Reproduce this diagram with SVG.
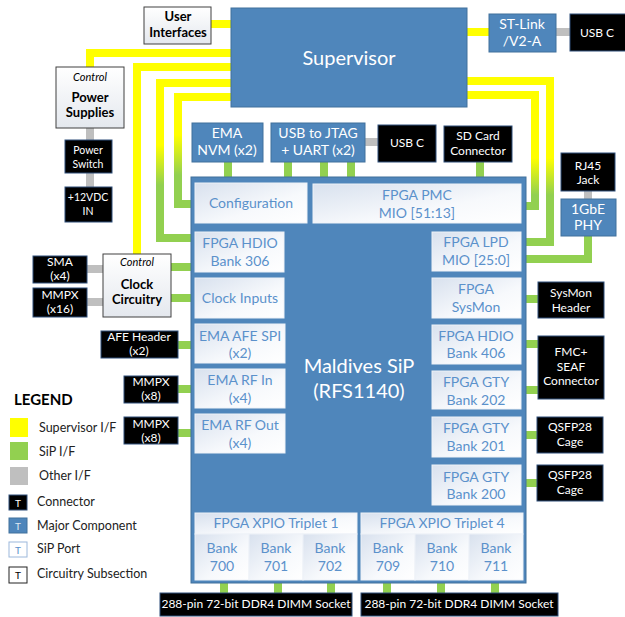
<svg xmlns="http://www.w3.org/2000/svg" width="625" height="617" viewBox="0 0 625 617">
<defs>
<linearGradient id="portFill" x1="0" y1="0" x2="1" y2="1"><stop offset="0" stop-color="#d8e1ee"/><stop offset="0.6" stop-color="#f7f9fc"/><stop offset="1" stop-color="#ffffff"/></linearGradient>
<linearGradient id="ctrlFill" x1="0" y1="0" x2="0" y2="1"><stop offset="0" stop-color="#ffffff"/><stop offset="1" stop-color="#e4e8ee"/></linearGradient>
<linearGradient id="ygL1" gradientUnits="userSpaceOnUse" x1="0" y1="145" x2="0" y2="185"><stop offset="0" stop-color="#ffff00"/><stop offset="1" stop-color="#92d050"/></linearGradient>
<linearGradient id="ygL2" gradientUnits="userSpaceOnUse" x1="0" y1="135" x2="0" y2="175"><stop offset="0" stop-color="#ffff00"/><stop offset="1" stop-color="#92d050"/></linearGradient>
<linearGradient id="ygR" gradientUnits="userSpaceOnUse" x1="0" y1="158" x2="0" y2="195"><stop offset="0" stop-color="#ffff00"/><stop offset="1" stop-color="#92d050"/></linearGradient>
</defs>
<style>
text{font-family:Lato,"Liberation Sans",sans-serif;text-anchor:middle}
.y{fill:none;stroke:#ffff00;stroke-width:8}
.g{fill:none;stroke:#92d050;stroke-width:8}
.o{fill:none;stroke:#bfbfbf;stroke-width:8}
.yg{fill:none;stroke-width:8}
.major{fill:#4f86bb;stroke:#41719c;stroke-width:1}
.port{fill:url(#portFill);stroke:#eef2f8;stroke-width:1}
.conn{fill:#000;stroke:#2f4f7a;stroke-width:1}
.ctrl{fill:url(#ctrlFill);stroke:#404040;stroke-width:1}
.pt{fill:#5b91cb;font-size:14px}
.mt{fill:#fff;font-size:14px}
.ct{fill:#fff;font-size:12px}
.cs{fill:#fff;font-size:10.5px}
.bt{fill:#000;font-size:13px;font-weight:bold}
.it{fill:#000;font-size:11px;font-style:italic}
.lg{fill:#222;font-size:12.5px;text-anchor:start}
.lh{fill:#000;font-size:15px;font-weight:bold;text-anchor:start}
</style>
<rect width="625" height="617" fill="#fff"/>
<g id="connectors">
<path class="y" d="M211 24H231"/>
<path class="y" d="M467 32H489"/>
<path class="o" d="M556 32H570"/>
<path class="y" d="M231 53H90V67"/>
<path class="y" d="M231 67H137V254"/>
<path class="yg" stroke="url(#ygL1)" d="M231 83H160V238H191"/>
<path class="yg" stroke="url(#ygL2)" d="M231 97H178V204H191"/>
<path class="yg" stroke="url(#ygR)" d="M467 81H550V242H526"/>
<path class="yg" stroke="url(#ygR)" d="M467 95H535V206H526"/>
<path class="g" d="M588 236V259H526"/>
<path class="o" d="M588 191V199"/>
<path class="g" d="M480 162V177"/>
<path class="g" d="M228 162V177M288 162V177M324 162V177M351 162V177"/>
<path class="o" d="M365 142H378"/>
<path class="o" d="M90 128V187"/>
<path class="o" d="M87 269H103M87 302H103"/>
<path class="g" d="M171 267H191M171 298H191M178 345H191M178 389H191M178 433H191"/>
<path class="g" d="M526 299H538M526 344H538M526 390H538M526 435H538M526 483H538"/>
<path class="g" d="M224 583V593M278 583V593M331 583V593M387 583V593M441 583V593M495 583V593"/>
</g>
<g id="supervisor"><rect class="major" x="231" y="8" width="236" height="99"/><text x="349" y="65" fill="#fff" font-size="20">Supervisor</text></g>
<g id="user-interfaces"><rect class="ctrl" x="144" y="7" width="67" height="37" stroke="#555"/><text class="bt" x="178" y="21" font-size="12">User</text><text class="bt" x="178" y="37" font-size="12">Interfaces</text></g>
<g id="st-link"><rect class="major" x="489" y="14" width="67" height="38"/><text class="mt" x="522" y="29" font-size="13">ST-Link</text><text class="mt" x="522" y="46" font-size="13">/V2-A</text></g>
<g id="usbc-top"><rect class="conn" x="570" y="14" width="56" height="37"/><text class="ct" x="597" y="37">USB C</text></g>
<g id="power-supplies"><rect class="ctrl" x="56" y="67" width="68" height="61"/><text class="it" x="90" y="81">Control</text><text class="bt" x="90" y="102">Power</text><text class="bt" x="90" y="117">Supplies</text></g>
<g id="power-switch"><rect class="conn" x="65" y="140" width="47" height="33"/><text class="cs" x="88" y="154">Power</text><text class="cs" x="88" y="168">Switch</text></g>
<g id="dc-in"><rect class="conn" x="65" y="187" width="47" height="35"/><text class="cs" x="88" y="201">+12VDC</text><text class="cs" x="88" y="215">IN</text></g>
<g id="ema-nvm"><rect class="major" x="192" y="123" width="71" height="39"/><text class="mt" x="227" y="138">EMA</text><text class="mt" x="227" y="155">NVM (x2)</text></g>
<g id="usb-jtag"><rect class="major" x="271" y="123" width="94" height="39"/><text class="mt" x="318" y="138">USB to JTAG</text><text class="mt" x="318" y="155">+ UART (x2)</text></g>
<g id="usbc-mid"><rect class="conn" x="378" y="125" width="58" height="37"/><text class="ct" x="407" y="147">USB C</text></g>
<g id="sd-card"><rect class="conn" x="444" y="126" width="68" height="36"/><text class="ct" x="478" y="140">SD Card</text><text class="ct" x="478" y="155">Connector</text></g>
<g id="rj45"><rect class="conn" x="561" y="153" width="54" height="38"/><text class="ct" x="588" y="170">RJ45</text><text class="ct" x="588" y="184">Jack</text></g>
<g id="phy"><rect class="major" x="561" y="199" width="55" height="37"/><text class="mt" x="588" y="214" font-size="13">1GbE</text><text class="mt" x="588" y="230" font-size="13">PHY</text></g>
<g id="sip">
<rect class="major" x="191" y="177" width="335" height="406"/>
<text x="359" y="373" fill="#fff" font-size="20">Maldives SiP</text>
<text x="359" y="398" fill="#fff" font-size="20">(RFS1140)</text>
</g>
<g id="configuration"><rect class="port" x="195" y="183" width="112" height="40"/><text class="pt" x="251" y="208">Configuration</text></g>
<g id="pmc-mio"><rect class="port" x="313" y="184" width="208" height="39"/><text class="pt" x="417" y="200">FPGA PMC</text><text class="pt" x="417" y="218">MIO [51:13]</text></g>
<g id="hdio-306"><rect class="port" x="195" y="232" width="89" height="40"/><text class="pt" x="240" y="248">FPGA HDIO</text><text class="pt" x="240" y="266">Bank 306</text></g>
<g id="lpd-mio"><rect class="port" x="432" y="232" width="89" height="39"/><text class="pt" x="476" y="247">FPGA LPD</text><text class="pt" x="476" y="265">MIO [25:0]</text></g>
<g id="clock-inputs"><rect class="port" x="195" y="278" width="89" height="40"/><text class="pt" x="240" y="303">Clock Inputs</text></g>
<g id="sysmon"><rect class="port" x="432" y="278" width="89" height="40"/><text class="pt" x="476" y="294">FPGA</text><text class="pt" x="476" y="312">SysMon</text></g>
<g id="afe-spi"><rect class="port" x="195" y="324" width="90" height="39"/><text class="pt" x="240" y="341">EMA AFE SPI</text><text class="pt" x="240" y="358">(x2)</text></g>
<g id="hdio-406"><rect class="port" x="432" y="325" width="89" height="39"/><text class="pt" x="476" y="341">FPGA HDIO</text><text class="pt" x="476" y="358">Bank 406</text></g>
<g id="rf-in"><rect class="port" x="195" y="369" width="90" height="39"/><text class="pt" x="240" y="385">EMA RF In</text><text class="pt" x="240" y="403">(x4)</text></g>
<g id="gty-202"><rect class="port" x="432" y="371" width="89" height="38"/><text class="pt" x="476" y="387">FPGA GTY</text><text class="pt" x="476" y="405">Bank 202</text></g>
<g id="rf-out"><rect class="port" x="195" y="414" width="90" height="39"/><text class="pt" x="240" y="430">EMA RF Out</text><text class="pt" x="240" y="448">(x4)</text></g>
<g id="gty-201"><rect class="port" x="432" y="417" width="89" height="40"/><text class="pt" x="476" y="433">FPGA GTY</text><text class="pt" x="476" y="451">Bank 201</text></g>
<g id="gty-200"><rect class="port" x="432" y="465" width="89" height="40"/><text class="pt" x="476" y="482">FPGA GTY</text><text class="pt" x="476" y="499">Bank 200</text></g>
<g id="xpio-1">
<rect class="port" x="195" y="513" width="162" height="21"/><text class="pt" x="276" y="528">FPGA XPIO Triplet 1</text>
<rect class="port" x="195" y="534" width="54" height="46"/><text class="pt" x="222" y="553">Bank</text><text class="pt" x="222" y="571">700</text>
<rect class="port" x="249" y="534" width="54" height="46"/><text class="pt" x="276" y="553">Bank</text><text class="pt" x="276" y="571">701</text>
<rect class="port" x="303" y="534" width="54" height="46"/><text class="pt" x="330" y="553">Bank</text><text class="pt" x="330" y="571">702</text>
</g>
<g id="xpio-4">
<rect class="port" x="361" y="513" width="162" height="21"/><text class="pt" x="442" y="528">FPGA XPIO Triplet 4</text>
<rect class="port" x="361" y="534" width="54" height="46"/><text class="pt" x="388" y="553">Bank</text><text class="pt" x="388" y="571">709</text>
<rect class="port" x="415" y="534" width="54" height="46"/><text class="pt" x="442" y="553">Bank</text><text class="pt" x="442" y="571">710</text>
<rect class="port" x="469" y="534" width="54" height="46"/><text class="pt" x="496" y="553">Bank</text><text class="pt" x="496" y="571">711</text>
</g>
<g id="clock-circuitry"><rect class="ctrl" x="103" y="254" width="68" height="63"/><text class="it" x="137" y="266">Control</text><text class="bt" x="137" y="289">Clock</text><text class="bt" x="137" y="304">Circuitry</text></g>
<g id="sma"><rect class="conn" x="33" y="256" width="54" height="27"/><text class="ct" x="60" y="266">SMA</text><text class="ct" x="60" y="280">(x4)</text></g>
<g id="mmpx-16"><rect class="conn" x="33" y="288" width="54" height="29"/><text class="ct" x="60" y="299">MMPX</text><text class="ct" x="60" y="313">(x16)</text></g>
<g id="afe-header"><rect class="conn" x="101" y="331" width="77" height="27"/><text class="ct" x="139" y="341">AFE Header</text><text class="ct" x="139" y="355">(x2)</text></g>
<g id="mmpx-8a"><rect class="conn" x="124" y="376" width="54" height="27"/><text class="ct" x="151" y="386">MMPX</text><text class="ct" x="151" y="400">(x8)</text></g>
<g id="mmpx-8b"><rect class="conn" x="124" y="417" width="54" height="27"/><text class="ct" x="151" y="428">MMPX</text><text class="ct" x="151" y="442">(x8)</text></g>
<g id="sysmon-header"><rect class="conn" x="538" y="282" width="66" height="36"/><text class="ct" x="571" y="297">SysMon</text><text class="ct" x="571" y="312">Header</text></g>
<g id="fmc-seaf"><rect class="conn" x="538" y="336" width="66" height="63"/><text class="ct" x="571" y="356">FMC+</text><text class="ct" x="571" y="371">SEAF</text><text class="ct" x="571" y="385">Connector</text></g>
<g id="qsfp-1"><rect class="conn" x="537" y="417" width="66" height="36"/><text class="ct" x="570" y="431">QSFP28</text><text class="ct" x="570" y="446">Cage</text></g>
<g id="qsfp-2"><rect class="conn" x="537" y="465" width="66" height="36"/><text class="ct" x="570" y="479">QSFP28</text><text class="ct" x="570" y="494">Cage</text></g>
<g id="ddr4-1"><rect class="conn" x="160" y="593" width="192" height="23"/><text class="ct" x="256" y="608" font-size="11.3">288-pin 72-bit DDR4 DIMM Socket</text></g>
<g id="ddr4-2"><rect class="conn" x="361" y="593" width="197" height="23"/><text class="ct" x="459" y="608" font-size="11.3">288-pin 72-bit DDR4 DIMM Socket</text></g>
<g id="legend">
<text class="lh" x="14" y="405">LEGEND</text>
<rect x="10" y="418" width="18" height="19" fill="#ffff00"/><text class="lg" x="39" y="432">Supervisor I/F</text>
<rect x="10" y="442" width="18" height="18" fill="#92d050"/><text class="lg" x="39" y="456">SiP I/F</text>
<rect x="10" y="467" width="18" height="18" fill="#bfbfbf"/><text class="lg" x="39" y="480">Other I/F</text>
<rect class="conn" x="9" y="495" width="18" height="15"/><text x="18" y="507" fill="#fff" font-size="10">T</text><text class="lg" x="37" y="506">Connector</text>
<rect class="major" x="9" y="518" width="18" height="15"/><text x="18" y="530" fill="#dfe8f3" font-size="10">T</text><text class="lg" x="37" y="530">Major Component</text>
<rect x="9" y="542" width="18" height="15" fill="#fff" stroke="#9cb8db"/><text x="18" y="554" fill="#5b91cb" font-size="10">T</text><text class="lg" x="37" y="553">SiP Port</text>
<rect x="9" y="567" width="18" height="16" fill="#fff" stroke="#222"/><text x="18" y="579" fill="#000" font-size="10">T</text><text class="lg" x="37" y="578">Circuitry Subsection</text>
</g>
</svg>
